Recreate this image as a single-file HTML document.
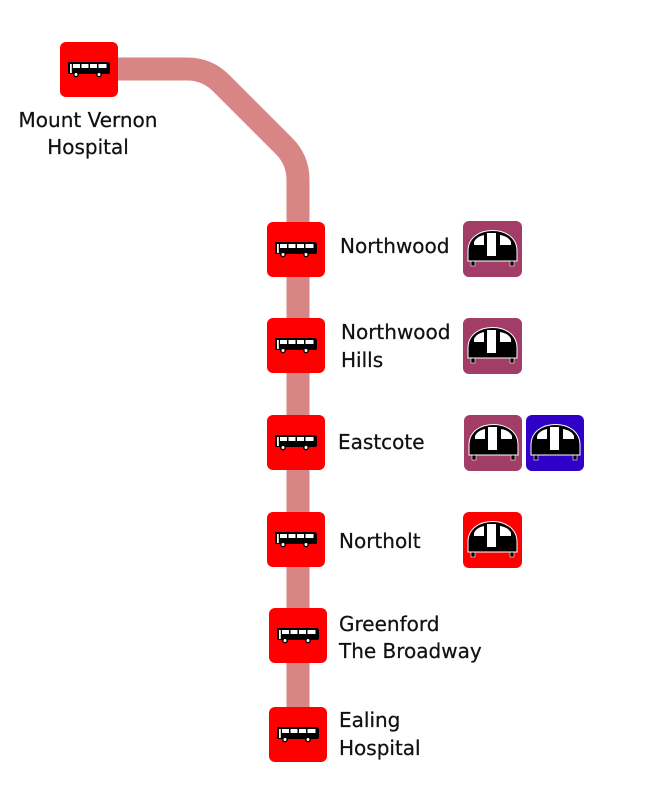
<!DOCTYPE html>
<html><head><meta charset="utf-8"><style>
html,body{margin:0;padding:0;background:#fff;}
svg{display:block;}
text{font-family:"DejaVu Sans","Liberation Sans",sans-serif;font-size:20px;fill:#111;stroke:#111;stroke-width:0.25px;}
</style></head><body>
<svg width="666" height="811" viewBox="0 0 666 811" xmlns="http://www.w3.org/2000/svg">
<defs>
  <g id="bus">
    <rect x="0" y="0" width="58" height="55" rx="6" fill="#ff0000"/>
    <path d="M8,20 L47,20 Q50,20 50,23 L50,30 Q50,32 48,32 L8,32 Z" fill="#000"/>
    <rect x="13" y="22" width="7" height="4" fill="#fff"/>
    <rect x="21.5" y="22" width="7" height="4" fill="#fff"/>
    <rect x="30" y="22" width="7" height="4" fill="#fff"/>
    <rect x="38.5" y="22" width="8" height="4" fill="#fff"/>
    <rect x="10" y="22" width="1.8" height="9" fill="#fff"/>
    <circle cx="16" cy="32.5" r="2.2" fill="#fff" stroke="#000" stroke-width="1.4"/>
    <circle cx="39" cy="32.5" r="2.2" fill="#fff" stroke="#000" stroke-width="1.4"/>
  </g>
  <g id="tube">
    <rect x="8" y="38" width="4" height="7" fill="#000" stroke="#fff" stroke-width="0.6"/>
    <rect x="47" y="38" width="4" height="7" fill="#000" stroke="#fff" stroke-width="0.6"/>
    <path d="M5,40 L5,30 C5,17 16,9.5 29.5,9.5 C43,9.5 54,17 54,30 L54,40 Z" fill="#000" stroke="#fff" stroke-width="1"/>
    <path d="M11,24 L11,21 C12.5,17.5 16,15 21,14 L21,24 Z" fill="#fff"/>
    <path d="M37,14 C43,15 46.5,17.5 48,21 L48,24 L37,24 Z" fill="#fff"/>
    <rect x="24" y="12" width="9" height="23" fill="#fff"/>
  </g>
</defs>

<!-- route line -->
<path d="M89,69 L187,69 Q207,69 221,83 L284,146 Q298,160 298,180 L298,735" fill="none" stroke="#d78585" stroke-width="23" stroke-linejoin="round"/>

<!-- bus stops -->
<use href="#bus" x="60" y="42"/>
<use href="#bus" x="267" y="222"/>
<use href="#bus" x="267" y="318"/>
<use href="#bus" x="267" y="415"/>
<use href="#bus" x="267" y="512"/>
<use href="#bus" x="269" y="608"/>
<use href="#bus" x="269" y="707"/>

<!-- tube icons -->
<g transform="translate(463,221)"><rect width="59" height="56" rx="6" fill="#a13d66"/><use href="#tube"/></g>
<g transform="translate(463,318)"><rect width="59" height="56" rx="6" fill="#a13d66"/><use href="#tube"/></g>
<g transform="translate(464,415)"><rect width="58" height="56" rx="6" fill="#a13d66"/><use href="#tube"/></g>
<g transform="translate(526,415)"><rect width="58" height="56" rx="6" fill="#3000c8"/><use href="#tube"/></g>
<g transform="translate(463,512)"><rect width="59" height="56" rx="6" fill="#ff0000"/><use href="#tube"/></g>

<!-- labels -->
<text x="88" y="127" text-anchor="middle">Mount Vernon</text>
<text x="88" y="154" text-anchor="middle">Hospital</text>
<text x="340" y="253">Northwood</text>
<text x="341" y="339">Northwood</text>
<text x="341" y="367">Hills</text>
<text x="338" y="449">Eastcote</text>
<text x="339" y="548">Northolt</text>
<text x="339" y="631">Greenford</text>
<text x="339" y="658">The Broadway</text>
<text x="339" y="727">Ealing</text>
<text x="339" y="755">Hospital</text>
</svg>
</body></html>
